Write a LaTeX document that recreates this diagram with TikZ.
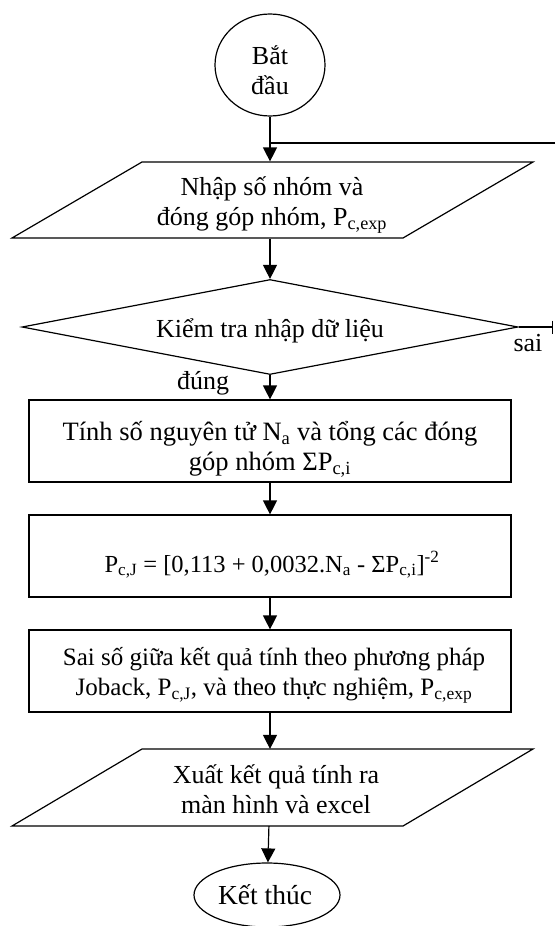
\documentclass[tikz,border=0pt]{standalone}
\usepackage{fontspec}
\setmainfont{Liberation Serif}
\usetikzlibrary{shapes.geometric,arrows.meta}
\begin{document}
\begin{tikzpicture}[x=1pt,y=-1pt, line width=1.2pt,
  every node/.style={font=\fontsize{26}{30}\selectfont, align=center},
  box/.style={draw, rectangle, minimum width=482pt, minimum height=82pt, inner sep=0pt},
  iotext/.style={rectangle, minimum width=300pt, minimum height=76pt, inner sep=0pt},
  shapeline/.style={line join=miter},
  term/.style={draw, ellipse, inner sep=0pt},
  dec/.style={draw, diamond, minimum width=496pt, minimum height=95pt, inner sep=0pt},
  arr/.style={-{Triangle[length=14pt,width=14pt]}},
  lbl/.style={inner sep=0pt}]
\useasboundingbox (0,0) rectangle (555,926);

\node[term, minimum width=110pt, minimum height=102pt] (start) at (270,65) {};
\node[lbl] (starttext) at (270,70) {Bắt\\đầu};

\node[iotext] (in) at (270,200) {};
\node[lbl] (intext) at (272,205) {Nhập số nhóm và\\đóng góp nhóm, P\textsubscript{c,exp}};
\draw[shapeline] (142,162) -- (533,162) -- (403,238) -- (12,238) -- cycle;

\node[dec] (chk) at (270,327) {};
\node[lbl] (chktext) at (270,331) {Kiểm tra nhập dữ liệu};

\node[box] (calc) at (270,441) {};
\node[lbl, font=\fontsize{26.5}{30}\selectfont] (calctext) at (270,449) {Tính số nguyên tử N\textsubscript{a} và tổng các đóng\\góp nhóm ΣP\textsubscript{c,i}};
\node[box] (form) at (270,556) {};
\node[lbl, font=\fontsize{24.5}{30}\selectfont] (formtext) at (272,565) {P\textsubscript{c,J} = [0,113 + 0,0032.N\textsubscript{a} - ΣP\textsubscript{c,i}]\textsuperscript{-2}};
\node[box] (err) at (270,671) {};
\node[lbl, font=\fontsize{25}{30}\selectfont] (errtext) at (274,675) {Sai số giữa kết quả tính theo phương pháp\\Joback, P\textsubscript{c,J}, và theo thực nghiệm, P\textsubscript{c,exp}};

\node[iotext] (out) at (270,787.5) {};
\node[lbl] (outtext) at (276,789) {Xuất kết quả tính ra\\màn hình và excel};
\draw[shapeline] (142,749) -- (533,749) -- (403,826) -- (12,826) -- cycle;

\node[term, minimum width=146pt, minimum height=64pt] (end) at (267,895) {};
\node[lbl, font=\fontsize{27.5}{30}\selectfont] (endtext) at (265,895) {Kết thúc};

\coordinate (j) at (270,143);
\coordinate (fr) at (555,143);
\coordinate (sr) at (553,327);

\draw[arr] (start) -- (in);
\draw (fr) -- (j);
\draw[arr] (in) -- (chk);
\draw[arr] (chk) -- (calc);
\draw[arr] (calc) -- (form);
\draw[arr] (form) -- (err);
\draw[arr] (err) -- (out);
\draw[arr] (out) -- (end);
\draw[-{Bar[width=13pt]}] (chk.east) -- (sr);

\node[lbl] (sai) at (528,343) {sai};
\node[lbl] (dung) at (203,383) {đúng};
\end{tikzpicture}
\end{document}
